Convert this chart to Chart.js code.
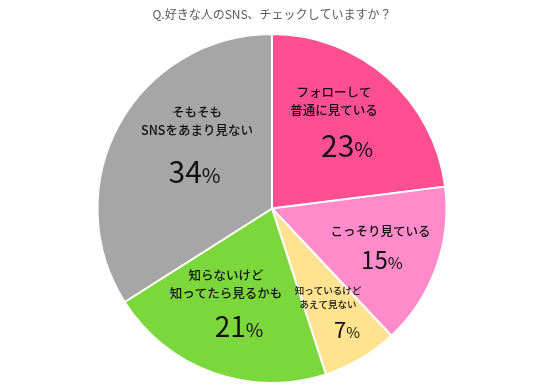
<!DOCTYPE html>
<html lang="ja">
<head>
    <meta charset="UTF-8">
    <title>好きな人のSNS、チェックしていますか？</title>
    <script src="https://cdn.jsdelivr.net/npm/chart.js"></script>
    <style>
        html, body { margin: 0; padding: 0; background: #ffffff; }
        .chart-box { position: relative; width: 544px; height: 392px; }
    </style>
</head>
<body>
    <div class="chart-box">
        <canvas id="pieChart" width="544" height="392"></canvas>
    </div>

    <script>
        const titleText = 'Q.好きな人のSNS、チェックしていますか？';
        const categories = [
            ['フォローして', '普通に見ている'],
            ['こっそり見ている'],
            ['知っているけど', 'あえて見ない'],
            ['知らないけど', '知ってたら見るかも'],
            ['そもそも', 'SNSをあまり見ない']
        ];
        const values = [23, 15, 7, 21, 34];
        const sliceColors = ['#FF4F93', '#FF8BCA', '#FFE391', '#7CD73D', '#A6A6A6'];

        const fontJP = "'Noto Sans CJK JP', 'Noto Sans', sans-serif";

        // label placement, in fractions of the pie radius from its centre
        const labelStyle = [
            { nx: 0.355, ny: [-0.667, -0.564], px: 0.43, py: -0.358, nSize: 12.5, pSize: 30 },
            { nx: 0.622, ny: [0.129], px: 0.63, py: 0.295, nSize: 12.5, pSize: 24 },
            { nx: 0.321, ny: [0.467, 0.547], px: 0.43, py: 0.696, nSize: 9.5, pSize: 22 },
            { nx: -0.264, ny: [0.381, 0.484], px: -0.189, py: 0.679, nSize: 12.5, pSize: 28 },
            { nx: -0.43, ny: [-0.553, -0.45], px: -0.444, py: -0.209, nSize: 12.5, pSize: 30 }
        ];

        const sliceLabels = {
            id: 'sliceLabels',
            afterDatasetsDraw(chart) {
                const ctx = chart.ctx;
                const meta = chart.getDatasetMeta(0);
                ctx.save();
                ctx.fillStyle = '#111111';
                meta.data.forEach((arc, i) => {
                    const st = labelStyle[i];
                    const r = arc.outerRadius;
                    ctx.textAlign = 'center';
                    ctx.textBaseline = 'middle';
                    ctx.font = '500 ' + st.nSize + 'px ' + fontJP;
                    categories[i].forEach((line, j) => {
                        ctx.fillText(line, arc.x + st.nx * r, arc.y + st.ny[j] * r);
                    });

                    // big number + smaller percent sign
                    const num = String(values[i]);
                    const pctSize = st.pSize * 0.68;
                    ctx.font = 'normal ' + st.pSize + 'px ' + fontJP;
                    const wNum = ctx.measureText(num).width;
                    ctx.font = 'normal ' + pctSize + 'px ' + fontJP;
                    const wPct = ctx.measureText('%').width;
                    const startX = arc.x + st.px * r - (wNum + wPct) / 2;
                    const base = arc.y + st.py * r + st.pSize * 0.36;
                    ctx.textAlign = 'left';
                    ctx.textBaseline = 'alphabetic';
                    ctx.font = 'normal ' + st.pSize + 'px ' + fontJP;
                    ctx.fillText(num, startX, base);
                    ctx.font = 'normal ' + pctSize + 'px ' + fontJP;
                    ctx.fillText('%', startX + wNum, base);
                });
                ctx.restore();
            }
        };

        new Chart(document.getElementById('pieChart'), {
            type: 'pie',
            data: {
                labels: categories.map(c => c.join('')),
                datasets: [{
                    data: values,
                    backgroundColor: sliceColors,
                    borderColor: '#ffffff',
                    borderWidth: 2,
                    hoverOffset: 0,
                    offset: 0
                }]
            },
            options: {
                responsive: false,
                animation: false,
                layout: { padding: { top: 0, bottom: 8, left: 0, right: 0 } },
                plugins: {
                    legend: { display: false },
                    tooltip: { enabled: false },
                    title: {
                        display: true,
                        text: titleText,
                        color: '#595959',
                        font: { size: 12, family: fontJP, weight: 'normal' },
                        padding: { top: 7, bottom: 11.6 }
                    }
                }
            },
            plugins: [sliceLabels]
        });
    </script>
</body>
</html>
